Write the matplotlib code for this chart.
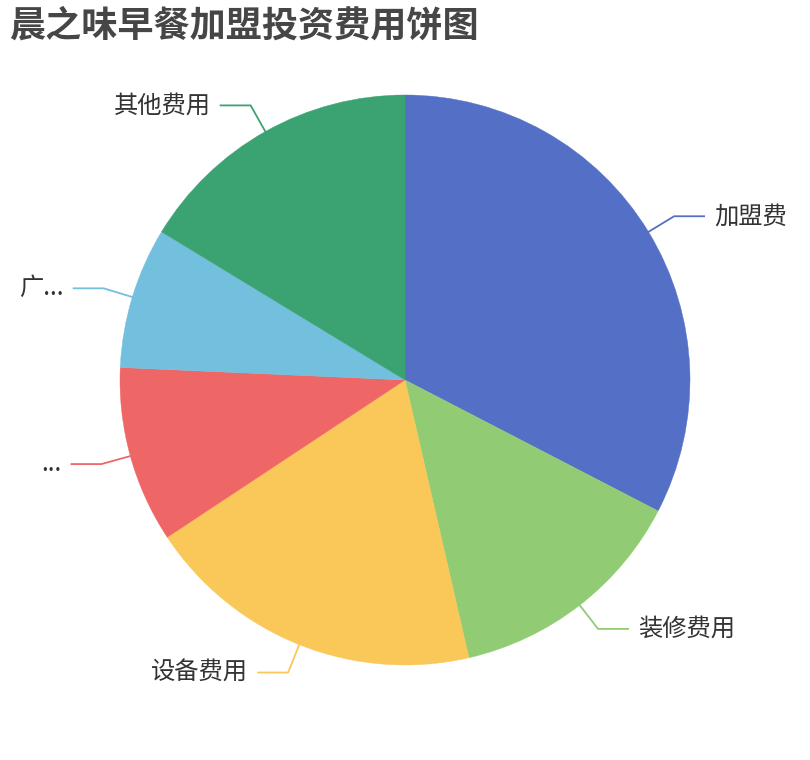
import numpy as np
import matplotlib
matplotlib.use("Agg")
from matplotlib import pyplot as plt

# pie data (share of investment)
labels = ["加盟费", "装修费用", "设备费用", "...", "广...", "其他费用"]
values = [32.6, 13.8, 19.3, 10.0, 8.0, 16.3]
colors = ["#5470c6", "#91cc75", "#fac858", "#ee6666", "#73c0de", "#3ba272"]
title = "晨之味早餐加盟投资费用饼图"

plt.rcParams['font.family'] = ['Noto Sans CJK SC', 'DejaVu Sans']

W, H = 810, 760
cx, cy, r = 405, 380, 285

fig = plt.figure(figsize=(W / 100, H / 100), dpi=100)
ax = fig.add_axes([0, 0, 1, 1])

# pie in pixel coords; y axis is flipped so go counterclockwise to look clockwise
wedges, _ = ax.pie(values, colors=colors, startangle=-90, counterclock=True,
                   center=(cx, cy), radius=r, frame=True,
                   wedgeprops=dict(linewidth=0.3))
for w, col in zip(wedges, colors):
    w.set_edgecolor(col)
ax.set_xlim(0, W)
ax.set_ylim(H, 0)
ax.set_aspect('equal')
ax.axis('off')

# leader lines and labels
total = sum(values)
start = 0.0
for lab, v, col in zip(labels, values, colors):
    mid = np.radians((start + v / 2) / total * 360)
    start += v
    sx, cy_ = np.sin(mid), -np.cos(mid)
    x0, y0 = cx + r * sx, cy + r * cy_
    x1, y1 = cx + (r + 30) * sx, cy + (r + 30) * cy_
    side = 1 if sx >= 0 else -1
    x2 = x1 + 30 * side
    ax.plot([x0, x1, x2], [y0, y1, y1], color=col, lw=1.3,
            solid_joinstyle='miter')
    ax.text(x2 + 10 * side, y1, lab, ha='left' if side > 0 else 'right',
            va='center', fontsize=17.5, color='#333333')

fig.text(9 / W, 1 - 26 / H, title, ha='left', va='center',
         fontsize=26, fontweight='bold', color='#464646')

fig.savefig("out.png", dpi=100)
